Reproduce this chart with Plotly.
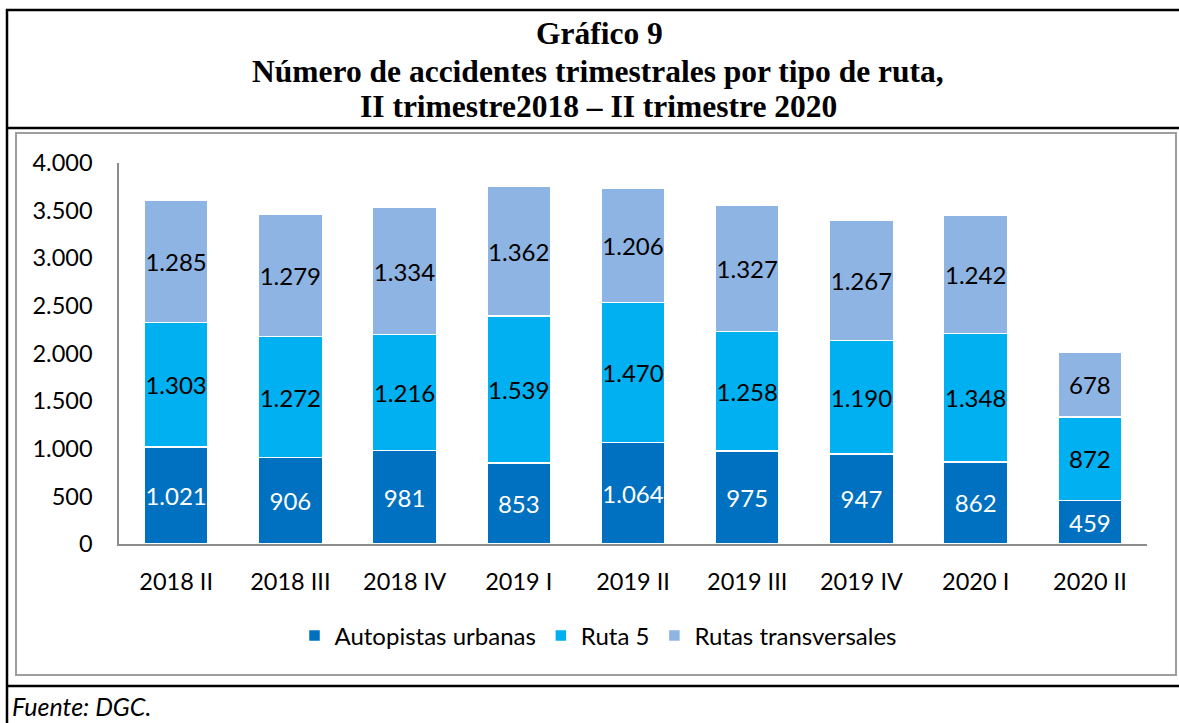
import plotly.graph_objects as go

categories = ["2018 II", "2018 III", "2018 IV", "2019 I", "2019 II", "2019 III", "2019 IV", "2020 I", "2020 II"]
autopistas = [1021, 906, 981, 853, 1064, 975, 947, 862, 459]
ruta5 = [1303, 1272, 1216, 1539, 1470, 1258, 1190, 1348, 872]
transversales = [1285, 1279, 1334, 1362, 1206, 1327, 1267, 1242, 678]
series_names = ["Autopistas urbanas", "Ruta 5", "Rutas transversales"]
colors = ["#0070C0", "#00B0F0", "#8EB4E3"]
text_colors = ["white", "black", "black"]

W, H = 1179, 723
L, R, T, B = 119, 1147, 163, 544  # plot area in pixels

def px(x):
    return (x - L) / (R - L)

def py(y):
    return (B - y) / (B - T)

FONT = "Lato"

fig = go.Figure()
for name, vals, col, tc in zip(series_names, [autopistas, ruta5, transversales], colors, text_colors):
    fig.add_trace(go.Bar(
        x=categories, y=vals, name=name,
        marker=dict(color=col, line=dict(color="white", width=1.5)),
        texttemplate="%{y:,}", textposition="inside", insidetextanchor="middle",
        textangle=0, constraintext="none",
        insidetextfont=dict(family=FONT, size=24, color=tc),
        hoverinfo="skip",
    ))

shapes = [
    dict(type="line", xref="paper", yref="paper", x0=px(6), x1=px(1179), y0=py(10), y1=py(10), line=dict(color="black", width=2.5)),
    dict(type="line", xref="paper", yref="paper", x0=px(6), x1=px(1179), y0=py(128), y1=py(128), line=dict(color="black", width=2.5)),
    dict(type="line", xref="paper", yref="paper", x0=px(6), x1=px(1179), y0=py(686), y1=py(686), line=dict(color="black", width=2.5)),
    dict(type="line", xref="paper", yref="paper", x0=px(7), x1=px(7), y0=py(9), y1=py(723), line=dict(color="black", width=2.5)),
    dict(type="rect", xref="paper", yref="paper", x0=px(16), x1=px(1176), y0=py(133), y1=py(675), line=dict(color="#9E9E9E", width=2)),
]

TITLE_FONT = dict(family="Liberation Serif", size=31.5, color="black")
annotations = [
    dict(text="<b>Gráfico 9</b>", xref="paper", yref="paper", x=px(599), y=py(33), showarrow=False,
         font=TITLE_FONT, xanchor="center", yanchor="middle"),
    dict(text="<b>Número de accidentes trimestrales por tipo de ruta,</b>", xref="paper", yref="paper", x=px(598), y=py(72), showarrow=False,
         font=TITLE_FONT, xanchor="center", yanchor="middle"),
    dict(text="<b>II trimestre2018 – II trimestre 2020</b>", xref="paper", yref="paper", x=px(598), y=py(107), showarrow=False,
         font=TITLE_FONT, xanchor="center", yanchor="middle"),
    dict(text="<i>Fuente: DGC.</i>", xref="paper", yref="paper", x=px(10), y=py(706), showarrow=False,
         font=dict(family=FONT, size=25, color="black"), xanchor="left", yanchor="middle"),
]

fig.update_layout(
    width=W, height=H,
    margin=dict(l=L, r=W - R, t=T, b=H - B, pad=0),
    barmode="stack", bargap=0.44,
    separators=",.",
    paper_bgcolor="white", plot_bgcolor="white",
    font=dict(family=FONT, color="black"),
    showlegend=True,
    legend=dict(orientation="h", x=px(598), y=py(636), xanchor="center", yanchor="middle",
                font=dict(family=FONT, size=24, color="black"), traceorder="normal",
                tracegroupgap=0, bgcolor="rgba(0,0,0,0)"),
    shapes=shapes, annotations=annotations,
    xaxis=dict(showline=True, linecolor="#8C8C8C", linewidth=1.5, ticks="", showgrid=False,
               tickfont=dict(family=FONT, size=23.5, color="black"), ticklabelstandoff=16),
    yaxis=dict(range=[0, 4000], dtick=500, tickformat=",", showline=True, linecolor="#8C8C8C", linewidth=1.5,
               ticks="", showgrid=False, zeroline=False,
               tickfont=dict(family=FONT, size=23.5, color="black"), ticklabelstandoff=20),
)

fig.write_html("out.html", config={"displayModeBar": False},
               post_script="document.body.style.margin='0';document.body.style.overflow='hidden';")
